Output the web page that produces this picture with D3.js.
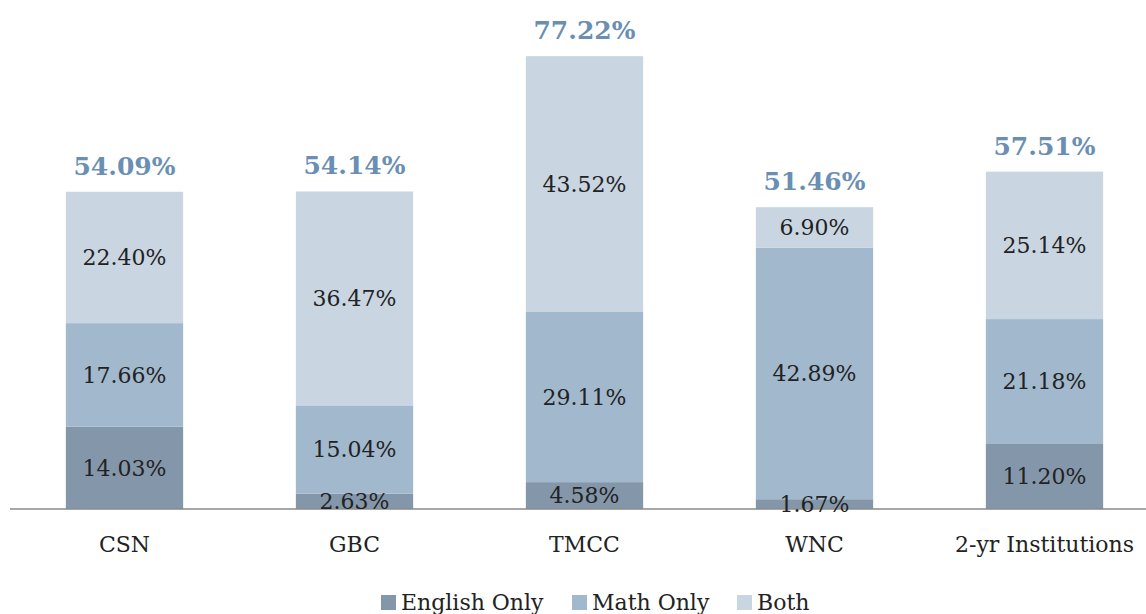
<!DOCTYPE html>
<html>
<head>
<meta charset="utf-8">
<script src="https://cdn.jsdelivr.net/npm/d3@7"></script>
<style>
  body { margin: 0; background: #fff; }
  svg { display: block; font-family: "DejaVu Serif", serif; }
</style>
</head>
<body>
<svg width="1146" height="614"></svg>
<script>
const categories = ["CSN", "GBC", "TMCC", "WNC", "2-yr Institutions"];
const seriesNames = ["English Only", "Math Only", "Both"];
const englishOnly = [14.03, 2.63, 4.58, 1.67, 11.2];
const mathOnly = [17.66, 15.04, 29.11, 42.89, 21.18];
const both = [22.4, 36.47, 43.52, 6.9, 25.14];
const totals = [54.09, 54.14, 77.22, 51.46, 57.51];

const colors = ["#8497aa", "#a1b8cd", "#c9d6e2"];

const svg = d3.select("svg");

const rows = categories.map((c, i) => ({
  cat: c,
  "English Only": englishOnly[i],
  "Math Only": mathOnly[i],
  "Both": both[i],
  total: totals[i]
}));

const stacked = d3.stack().keys(seriesNames)(rows);

const x = d3.scaleBand()
  .domain(categories)
  .range([9.5, 1159.5])
  .paddingInner(0.49)
  .paddingOuter(0.245);

const y = d3.scaleLinear().domain([0, 80]).range([509, 509 - 80 * 5.865]);

// bars
svg.append("g")
  .selectAll("g")
  .data(stacked)
  .join("g")
  .attr("fill", (d, i) => colors[i])
  .selectAll("rect")
  .data(d => d)
  .join("rect")
  .attr("x", d => x(d.data.cat))
  .attr("width", x.bandwidth())
  .attr("y", d => y(d[1]))
  .attr("height", d => y(d[0]) - y(d[1]));

// axis line (under the labels)
svg.append("line")
  .attr("x1", 10).attr("x2", 1146)
  .attr("y1", y(0)).attr("y2", y(0))
  .attr("stroke", "#8a8a8a")
  .attr("stroke-width", 1.5);

// segment labels
svg.append("g")
  .selectAll("g")
  .data(stacked)
  .join("g")
  .selectAll("text")
  .data(d => d)
  .join("text")
  .attr("x", d => x(d.data.cat) + x.bandwidth() / 2)
  .attr("y", d => (y(d[0]) + y(d[1])) / 2)
  .attr("dy", "0.36em")
  .attr("text-anchor", "middle")
  .attr("font-size", 22)
  .attr("fill", "#222")
  .text(d => (d[1] - d[0]).toFixed(2) + "%");

// category labels
svg.append("g")
  .selectAll("text")
  .data(categories)
  .join("text")
  .attr("x", d => x(d) + x.bandwidth() / 2)
  .attr("y", 552)
  .attr("text-anchor", "middle")
  .attr("font-size", 22)
  .attr("fill", "#222")
  .text(d => d);

// totals
svg.append("g")
  .selectAll("text")
  .data(rows)
  .join("text")
  .attr("x", d => x(d.cat) + x.bandwidth() / 2)
  .attr("y", d => y(d.total) - 17)
  .attr("text-anchor", "middle")
  .attr("font-size", 25)
  .attr("font-weight", "bold")
  .attr("fill", "#6a8fb3")
  .text(d => d.total.toFixed(2) + "%");

// legend
const legendX = [381, 572, 737];
const legend = svg.append("g")
  .selectAll("g")
  .data(seriesNames)
  .join("g")
  .attr("transform", (d, i) => `translate(${legendX[i]},602)`);

legend.append("rect")
  .attr("x", 0).attr("y", -7)
  .attr("width", 15).attr("height", 15)
  .attr("fill", (d, i) => colors[i]);

legend.append("text")
  .attr("x", 20)
  .attr("dy", "0.36em")
  .attr("font-size", 22)
  .attr("fill", "#222")
  .text(d => d);
</script>
</body>
</html>
